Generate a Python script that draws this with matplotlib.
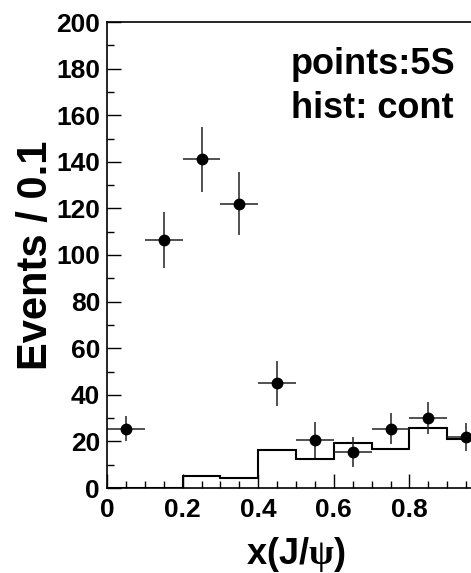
import numpy as np
import matplotlib
matplotlib.use("Agg")
import matplotlib.pyplot as plt
from matplotlib.ticker import MultipleLocator

plt.rcParams['font.family'] = ['Liberation Sans', 'DejaVu Sans']
plt.rcParams['font.weight'] = 'bold'
plt.rcParams['axes.labelweight'] = 'bold'
plt.rcParams['mathtext.fontset'] = 'custom'
plt.rcParams['mathtext.rm'] = 'Liberation Serif'
plt.rcParams['mathtext.bf'] = 'Liberation Sans:bold'

# data points (5S)
x_centers = [0.05, 0.15, 0.25, 0.35, 0.45, 0.55, 0.65, 0.75, 0.85, 0.95]
counts = [25.5, 106.5, 141, 122, 45, 20.5, 15.5, 25.5, 30, 22]
errors = [5.5, 12, 14, 13.5, 9.7, 7.7, 6.5, 6.7, 7, 6]

# continuum histogram
bin_edges = [0.0, 0.1, 0.2, 0.3, 0.4, 0.5, 0.6, 0.7, 0.8, 0.9, 1.0]
cont = [0, 0, 5.1, 4.4, 16.2, 12.6, 19.3, 16.9, 25.7, 20.9]
x_half_width = 0.05


def xfmt(v, pos):
    if abs(v) < 1e-9:
        return '0'
    if v > 0.99:
        return ''  # label at 1 falls outside the picture
    return f'{v:.1f}'


fig = plt.figure(figsize=(4.71, 5.73), dpi=100)
ax = fig.add_axes([107 / 471, 85 / 573, 378 / 471, 466 / 573])

ax.stairs(cont, bin_edges, baseline=None, color='black', linewidth=1.5)
ax.errorbar(x_centers, counts, yerr=errors, xerr=x_half_width, fmt='o',
            color='black', ecolor='#222222', elinewidth=1.1, markersize=7.5,
            capsize=0)

ax.set_xlim(0, 1)
ax.set_ylim(0, 200)
ax.xaxis.set_major_locator(MultipleLocator(0.2))
ax.xaxis.set_minor_locator(MultipleLocator(0.05))
ax.yaxis.set_major_locator(MultipleLocator(20))
ax.yaxis.set_minor_locator(MultipleLocator(10))
ax.xaxis.set_major_formatter(xfmt)

ax.tick_params(which='both', direction='in', width=1.0, labelsize=19)
ax.tick_params(which='major', length=10)
ax.tick_params(which='minor', length=5)
ax.tick_params(axis='y', pad=5)
ax.tick_params(axis='x', pad=7)
for s in ax.spines.values():
    s.set_linewidth(1.2)

ax.set_ylabel('Events / 0.1', fontsize=30, fontweight='bold', va='center')
ax.yaxis.set_label_coords(-0.188, 0.5)
ax.set_xlabel(r'$\mathbf{x(J/}\mathrm{\psi}\mathbf{)}$', fontsize=26, va='center')
ax.xaxis.set_label_coords(0.5, -0.142)

ax.text(0.487, 0.888, 'points:5S', fontsize=26, ha='left', va='baseline',
        transform=ax.transAxes)
ax.text(0.487, 0.794, 'hist: cont', fontsize=26, ha='left', va='baseline',
        transform=ax.transAxes)

fig.savefig('out.png', dpi=100)
